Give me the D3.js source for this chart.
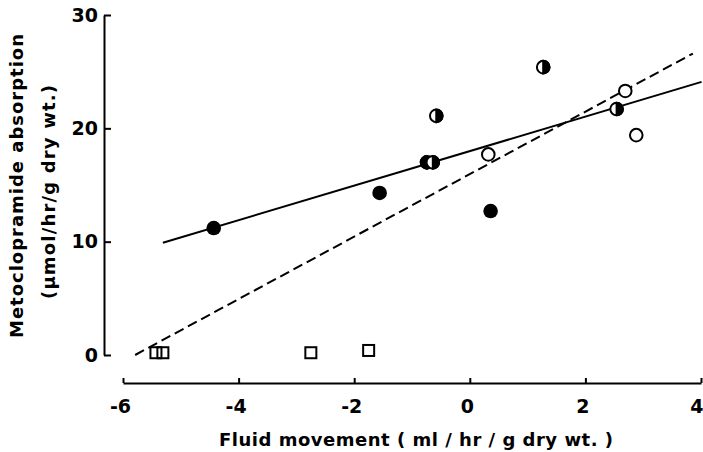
<!DOCTYPE html>
<html>
<head>
<meta charset="utf-8">
<script src="https://cdn.jsdelivr.net/npm/d3@7"></script>
<style>
	body{margin:0;background:#fff;}
	svg{display:block;}
</style>
</head>
<body>
<svg width="703" height="452"></svg>
<script>
//data [fluid movement, absorption]
let openSquares = [[-5.43,0.2],[-5.31,0.2],[-2.75,0.2],[-1.75,0.4]];
let filledCircles = [[-4.43,11.2],[-1.56,14.3],[0.36,12.7]];
let halfCircles = [[-0.58,21.1],[1.27,25.4],[-0.74,17.0],[-0.64,17.0],[2.54,21.7]];
let halfSide = [1,1,-1,1,1]; //which half is black: 1 right, -1 left
let openCircles = [[0.32,17.7],[2.69,23.3],[2.88,19.4]];
let solidFit = [[-5.31,9.9],[4.01,24.1]];
let dashedFit = [[-5.79,0],[3.86,26.6]];
let xTicks = [-6,-4,-2,0,2,4];
let yTicks = [0,10,20,30];

(()=>{
	let svg = d3.select("svg");
	let font = "'DejaVu Sans', Verdana, sans-serif";
	let x = d3.scaleLinear().domain([-6,4]).range([123,701]),
		y = d3.scaleLinear().domain([0,30]).range([355,15]);
	let r = 6.3;

	//axes
	let yAxis = svg.append("g")
		.attr("transform","translate(104,0)")
		.call(d3.axisLeft(y).tickValues(yTicks).tickSize(-7).tickSizeOuter(0).tickPadding(6).tickFormat(d=>String(d)));
	let xAxis = svg.append("g")
		.attr("transform","translate(0,383)")
		.call(d3.axisBottom(x).tickValues(xTicks).tickSize(-5).tickSizeOuter(0).tickPadding(17).tickFormat(d=>String(d)));
	[yAxis,xAxis].forEach(a=>{
		a.selectAll("path, line").attr("stroke","#000").attr("stroke-width",2);
		a.selectAll(".tick text")
			.style("font-family",font).style("font-size","19px").style("font-weight","bold").attr("fill","#000");
	});
	xAxis.selectAll(".tick text").attr("dx",-3);
	//last label sits on the right edge, keep it inside the picture
	xAxis.selectAll(".tick text").filter(d=>d==4).attr("text-anchor","end").attr("dx",2);

	//axis titles
	let title = (sel)=>sel.style("font-family",font).style("font-size","18px").style("font-weight","bold")
		.attr("text-anchor","middle").attr("lengthAdjust","spacing");
	svg.append("text").call(title)
		.attr("x",416).attr("y",446)
		.attr("textLength",394)
		.text("Fluid movement ( ml / hr / g dry wt. )");
	svg.append("text").call(title)
		.attr("transform","translate(23,186) rotate(-90)")
		.attr("textLength",304)
		.text("Metoclopramide absorption");
	svg.append("text").call(title)
		.attr("transform","translate(55,192) rotate(-90)")
		.attr("textLength",214)
		.text("(µmol/hr/g dry wt.)");

	//fitted lines
	let line = d3.line().x(d=>x(d[0])).y(d=>y(d[1]));
	svg.append("path").datum(solidFit).attr("d",line)
		.attr("fill","none").attr("stroke","#000").attr("stroke-width",2);
	svg.append("path").datum(dashedFit).attr("d",line)
		.attr("fill","none").attr("stroke","#000").attr("stroke-width",2)
		.attr("stroke-dasharray","10,5");

	//markers
	svg.selectAll(".sq").data(openSquares).enter()
		.append("rect").attr("class","sq")
		.attr("x",d=>x(d[0])-5.5).attr("y",d=>y(d[1])-5.5)
		.attr("width",11).attr("height",11)
		.attr("fill","none").attr("stroke","#000").attr("stroke-width",2);

	svg.selectAll(".oc").data(openCircles).enter()
		.append("circle").attr("class","oc")
		.attr("cx",d=>x(d[0])).attr("cy",d=>y(d[1])).attr("r",r)
		.attr("fill","#fff").attr("stroke","#000").attr("stroke-width",2);

	svg.selectAll(".fc").data(filledCircles).enter()
		.append("circle").attr("class","fc")
		.attr("cx",d=>x(d[0])).attr("cy",d=>y(d[1])).attr("r",r+1)
		.attr("fill","#000");

	let hc = svg.selectAll(".hc").data(halfCircles).enter()
		.append("g").attr("class","hc")
		.attr("transform",(d,i)=>"translate("+x(d[0])+","+y(d[1])+") scale("+halfSide[i]+",1)");
	hc.append("circle").attr("r",r)
		.attr("fill","#fff").attr("stroke","#000").attr("stroke-width",2);
	hc.append("path")
		.attr("d","M0,"+(-r)+"A"+r+","+r+" 0 0 1 0,"+r+"Z")
		.attr("fill","#000").attr("stroke","#000").attr("stroke-width",2);
})();
</script>
</body>
</html>
